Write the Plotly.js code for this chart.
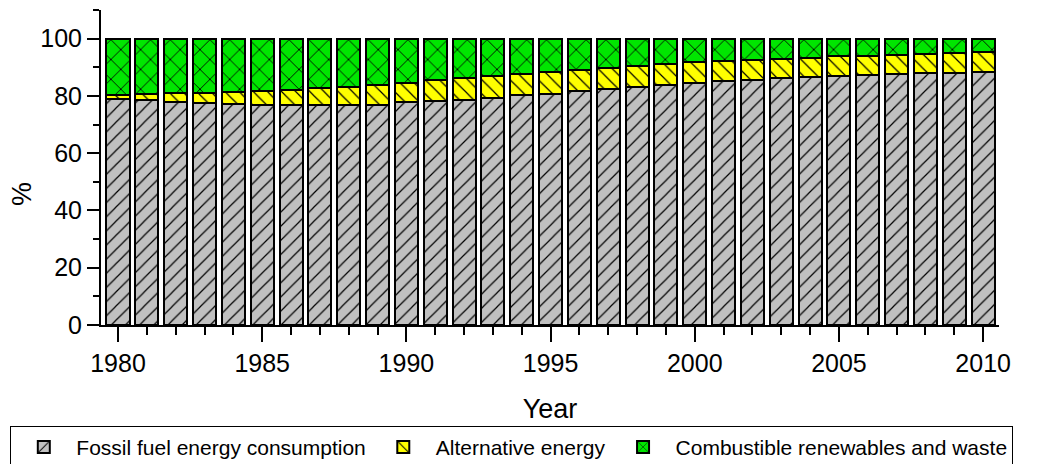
<!DOCTYPE html>
<html>
<head>
<meta charset="utf-8">
<script src="https://cdn.plot.ly/plotly-3.0.1.min.js"></script>
<style>html,body{margin:0;padding:0;background:#fff;}#chart{width:1037px;height:464px;}</style>
</head>
<body>
<div id="chart"></div>
<script>
var years = [1980,1981,1982,1983,1984,1985,1986,1987,1988,1989,1990,1991,1992,1993,1994,1995,1996,1997,1998,1999,2000,2001,2002,2003,2004,2005,2006,2007,2008,2009,2010];
var fossil = [79.0,78.4,78.0,77.6,77.3,77.0,76.9,76.7,76.8,77.0,77.8,78.1,78.7,79.4,80.2,80.8,81.6,82.4,83.1,83.8,84.5,85.1,85.7,86.2,86.7,87.1,87.3,87.6,87.9,88.0,88.2];
var alternative = [1.2,2.2,2.9,3.5,4.1,4.7,5.3,6.1,6.3,6.9,6.8,7.3,7.4,7.4,7.6,7.7,7.4,7.5,7.5,7.4,7.2,7.0,7.0,6.8,6.7,6.7,6.8,6.8,6.9,7.0,7.1];
var combustible = [19.8,19.4,19.1,18.9,18.6,18.3,17.8,17.2,16.9,16.1,15.4,14.6,13.9,13.2,12.2,11.5,11.0,10.1,9.4,8.8,8.3,7.9,7.3,7.0,6.6,6.2,5.9,5.6,5.2,5.0,4.7];
var seriesNames = ["Fossil fuel energy consumption","Alternative energy","Combustible renewables and waste"];

var FONT = "Liberation Sans, Arial, sans-serif";
function bar(name, y, color, shape, size) {
  return {
    type: "bar", x: years, y: y, name: name, width: 0.8,
    marker: {
      color: color,
      line: {color: "#000", width: 2},
      pattern: {shape: shape, fgcolor: "#000", bgcolor: color, size: size, solidity: 0.12}
    },
    hoverinfo: "x+y+name"
  };
}
var data = [
  bar(seriesNames[0], fossil, "#c0c0c0", "/", 10),
  bar(seriesNames[1], alternative, "#ffff00", "\\", 10),
  bar(seriesNames[2], combustible, "#00e600", "x", 14)
];
var layout = {
  width: 1037, height: 464,
  margin: {l: 101, r: 38, t: 10, b: 139, autoexpand: false},
  barmode: "stack",
  paper_bgcolor: "#fff", plot_bgcolor: "#fff",
  font: {family: FONT, color: "#000", size: 25},
  showlegend: true,
  legend: {
    orientation: "h", x: -0.101, xanchor: "left", y: -0.32, yanchor: "top",
    bordercolor: "#000", borderwidth: 1, font: {family: FONT, size: 21, color: "#000"},
    traceorder: "normal", itemsizing: "constant", itemwidth: 55
  },
  annotations: [{
    text: "%", xref: "paper", yref: "paper", x: -0.088, y: 0.416,
    xanchor: "center", yanchor: "middle", textangle: -90, showarrow: false,
    font: {family: FONT, size: 27, color: "#000"}
  }],
  xaxis: {
    range: [1979.41, 2010.55],
    tickvals: [1980,1985,1990,1995,2000,2005,2010],
    ticktext: ["1980","1985","1990","1995","2000","2005","2010"],
    ticks: "outside", ticklen: 15, tickwidth: 2, tickcolor: "#000",
    minor: {dtick: 1, tick0: 1980, ticks: "outside", ticklen: 8, tickwidth: 2, tickcolor: "#000", showgrid: false},
    showline: true, linewidth: 2, linecolor: "#000",
    showgrid: false, zeroline: false,
    tickfont: {family: FONT, size: 25, color: "#000"},
    title: {text: "Year", font: {family: FONT, size: 27, color: "#000"}, standoff: 23}
  },
  yaxis: {
    range: [0, 110],
    tickvals: [0,20,40,60,80,100],
    ticks: "outside", ticklen: 12, tickwidth: 2, tickcolor: "#000",
    minor: {tickvals: [10,30,50,70,90,110], ticks: "outside", ticklen: 6, tickwidth: 2, tickcolor: "#000", showgrid: false},
    showline: true, linewidth: 2, linecolor: "#000",
    showgrid: false, zeroline: false,
    tickfont: {family: FONT, size: 25, color: "#000"}
  }
};
Plotly.newPlot("chart", data, layout, {displayModeBar: false, staticPlot: true});
</script>
</body>
</html>
